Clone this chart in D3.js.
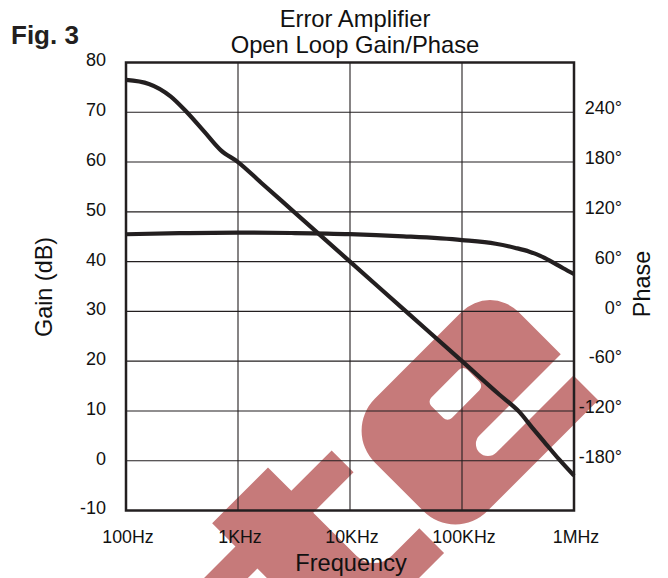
<!DOCTYPE html>
<html>
<head>
<meta charset="utf-8">
<style>
    body { margin: 0; background: #fff; }
    svg { display: block; font-family: 'Liberation Sans', Arial, Helvetica, sans-serif; }
</style>
</head>
<body>
<svg width="668" height="578"></svg>
<script src="https://d3js.org/d3.v7.min.js"></script>
<script>
    // values
    let gainTicks = [80, 70, 60, 50, 40, 30, 20, 10, 0, -10]
    let phaseTicks = [240, 180, 120, 60, 0, -60, -120, -180]
    let freqTicks = [100, 1e3, 1e4, 1e5, 1e6]
    let freqLabels = ["100Hz", "1KHz", "10KHz", "100KHz", "1MHz"]

    let gainFreq = [100, 160, 250, 350, 500, 700, 1000, 1600, 3160, 10000, 31600, 100000, 215000, 325000, 425000, 560000, 740000, 1000000]
    let gainDb = [76.5, 75.7, 73.2, 70, 66.1, 62.4, 60, 55.9, 50, 40, 30, 20, 13.3, 9.8, 6.6, 3.4, 0.2, -3]

    let phaseFreq = [100, 300, 1000, 3000, 10000, 30000, 100000, 200000, 300000, 400000, 500000, 630000, 800000, 1000000]
    let phaseDeg = [93, 94.3, 95, 94.5, 93.2, 90.5, 86, 81.5, 76.5, 72, 67, 60, 52, 45]

    let ink = "#231f20"
    let plotLeft = 126, plotRight = 574, plotTop = 62.5, plotBottom = 510.5

    let svg = d3.select("svg")

    let x = d3.scaleLog().domain([100, 1e6]).range([plotLeft, plotRight])
    let y = d3.scaleLinear().domain([-10, 80]).range([plotBottom, plotTop])
    let yPhase = d3.scaleLinear().domain([-240, 300]).range([plotBottom, plotTop])

    // watermark logo, drawn in a frame turned by -45 degrees
    let mark = svg.append("g")
        .attr("transform", "rotate(-45)")
        .attr("fill", "#c67a7a")
    mark.append("path")
        .attr("d", "M-220,520 H-141 V553 H-84 V584 H-141 V645 A25,25 0 0 0 -116,670 H-77 V705 H-220 V584 H-290 V553 H-220 Z")
    mark.append("path")
        .attr("fill-rule", "evenodd")
        .attr("d", "M-17,547 H106 A40,40 0 0 1 146,587 V647 H31 A12,12 0 0 0 31,671 H140 V706 H-17 A45,45 0 0 1 -62,661 V592 A45,45 0 0 1 -17,547 Z " +
            "M24,586 H63 A6,6 0 0 1 69,592 V609 A6,6 0 0 1 63,615 H24 A6,6 0 0 1 18,609 V592 A6,6 0 0 1 24,586 Z")

    // grid
    svg.append("g")
        .selectAll("line")
        .data(gainTicks.slice(1, -1))
        .join("line")
        .attr("x1", plotLeft).attr("x2", plotRight)
        .attr("y1", d => y(d)).attr("y2", d => y(d))
        .attr("stroke", ink).attr("stroke-width", 1.1)

    svg.append("g")
        .selectAll("line")
        .data(freqTicks.slice(1, -1))
        .join("line")
        .attr("x1", d => x(d)).attr("x2", d => x(d))
        .attr("y1", plotTop).attr("y2", plotBottom)
        .attr("stroke", ink).attr("stroke-width", 1.1)

    svg.append("rect")
        .attr("x", plotLeft).attr("y", plotTop)
        .attr("width", plotRight - plotLeft).attr("height", plotBottom - plotTop)
        .attr("fill", "none")
        .attr("stroke", ink).attr("stroke-width", 2.5)

    // curves
    let gainLine = d3.line()
        .x((d, i) => x(gainFreq[i]))
        .y(d => y(d))
        .curve(d3.curveMonotoneX)

    let phaseLine = d3.line()
        .x((d, i) => x(phaseFreq[i]))
        .y(d => yPhase(d))
        .curve(d3.curveMonotoneX)

    svg.append("path")
        .attr("d", gainLine(gainDb))
        .attr("fill", "none").attr("stroke", ink).attr("stroke-width", 4.2)

    svg.append("path")
        .attr("d", phaseLine(phaseDeg))
        .attr("fill", "none").attr("stroke", ink).attr("stroke-width", 4.2)

    // tick labels
    svg.append("g")
        .selectAll("text")
        .data(gainTicks)
        .join("text")
        .attr("x", 106)
        .attr("y", d => y(d))
        .attr("dy", "0.22em")
        .attr("text-anchor", "end")
        .attr("font-size", 18)
        .attr("fill", "#111")
        .text(d => d)

    svg.append("g")
        .selectAll("text")
        .data(phaseTicks)
        .join("text")
        .attr("x", 622)
        .attr("y", d => yPhase(d))
        .attr("dy", "0.12em")
        .attr("text-anchor", "end")
        .attr("font-size", 18)
        .attr("fill", "#111")
        .text(d => d + "°")

    svg.append("g")
        .selectAll("text")
        .data(freqTicks)
        .join("text")
        .attr("x", d => x(d) + 2)
        .attr("y", 543)
        .attr("text-anchor", "middle")
        .attr("font-size", 17.8)
        .attr("fill", "#111")
        .text((d, i) => freqLabels[i])

    // titles
    svg.append("text")
        .attr("x", 11).attr("y", 44)
        .attr("font-size", 26).attr("font-weight", "bold")
        .attr("fill", ink)
        .text("Fig. 3")

    svg.append("text")
        .attr("x", 355).attr("y", 27)
        .attr("text-anchor", "middle").attr("font-size", 23.8)
        .attr("fill", "#111")
        .text("Error Amplifier")

    svg.append("text")
        .attr("x", 355).attr("y", 53)
        .attr("text-anchor", "middle").attr("font-size", 23.8)
        .attr("fill", "#111")
        .text("Open Loop Gain/Phase")

    svg.append("text")
        .attr("x", 351).attr("y", 571)
        .attr("text-anchor", "middle").attr("font-size", 23.6)
        .attr("fill", "#111")
        .text("Frequency")

    svg.append("text")
        .attr("transform", "translate(52,287) rotate(-90)")
        .attr("text-anchor", "middle").attr("font-size", 23.4)
        .attr("fill", "#111")
        .text("Gain (dB)")

    svg.append("text")
        .attr("transform", "translate(650,284) rotate(-90)")
        .attr("text-anchor", "middle").attr("font-size", 23.4)
        .attr("fill", "#111")
        .text("Phase")
</script>
</body>
</html>
